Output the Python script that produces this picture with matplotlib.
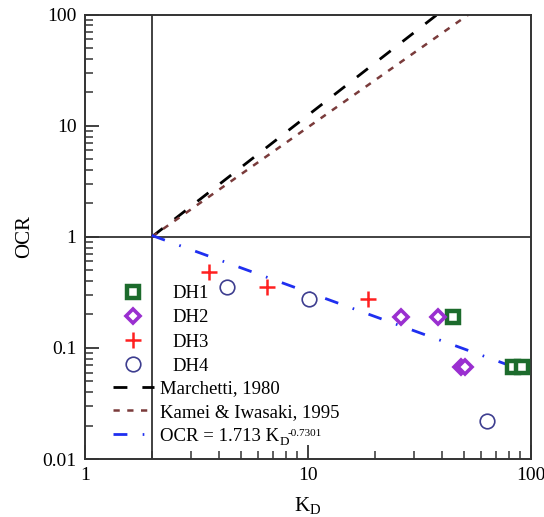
import matplotlib
matplotlib.use("Agg")
import matplotlib.pyplot as plt
from matplotlib.ticker import LogLocator, NullFormatter, FixedFormatter, FixedLocator

plt.rcParams['font.family'] = ['Liberation Serif', 'DejaVu Serif']
plt.rcParams['mathtext.fontset'] = 'custom'
plt.rcParams['mathtext.rm'] = 'Liberation Serif'

# ---- data ----
dh1_kd = [44.6, 83.0, 91.5]
dh1_ocr = [0.188, 0.068, 0.068]
dh2_kd = [26.1, 38.4, 48.5, 50.5]
dh2_ocr = [0.188, 0.188, 0.068, 0.068]
dh3_kd = [3.6, 6.57, 18.6]
dh3_ocr = [0.486, 0.351, 0.275]
dh4_kd = [4.34, 10.1, 63.9]
dh4_ocr = [0.356, 0.275, 0.0222]

marchetti_kd = [2.0, 38.0]
marchetti_ocr = [1.0, 100.0]
kamei_kd = [2.0, 52.5]
kamei_ocr = [1.0, 100.0]
fit_kd = [2.0, 92.0]
fit_ocr = [1.03, 0.063]

ref_kd = 2.0
ref_ocr = 1.0

fit_label_main = 'OCR = 1.713 K'
fit_label_sub = 'D'
fit_label_sup = '-0.7301'

xticks = [1, 10, 100]
xticklabels = ['1', '10', '100']
yticks = [0.01, 0.1, 1, 10, 100]
yticklabels = ['0.01', '0.1', '1', '10', '100']

W, H = 544, 517
fig = plt.figure(figsize=(W / 100, H / 100), dpi=100)
ax = fig.add_axes([84.7 / W, 1 - 459 / H, (530.7 - 84.7) / W, (459 - 14.7) / H])

ax.set_xscale('log')
ax.set_yscale('log')
ax.set_xlim(1, 100)
ax.set_ylim(0.01, 100)

ax.axvline(ref_kd, color='#333333', lw=1.3, zorder=1)
ax.axhline(ref_ocr, color='#333333', lw=1.3, zorder=1)

l_march, = ax.plot(marchetti_kd, marchetti_ocr, color='black', lw=2.0,
                   dashes=(5, 5.4), label='Marchetti, 1980', zorder=2)
l_kamei, = ax.plot(kamei_kd, kamei_ocr, color='#7a3b3b', lw=1.8,
                   dashes=(2.5, 3.0), label='Kamei & Iwasaki, 1995', zorder=2)
l_fit, = ax.plot(fit_kd, fit_ocr, color='#1f2ff0', lw=2.0,
                 dashes=(5, 5.5, 0.6, 5.5), label=fit_label_main, zorder=2)

m1, = ax.plot(dh1_kd, dh1_ocr, ls='none', marker='s', ms=8.5, mew=3.2,
              mec='#1c6b2c', mfc='white', label='DH1', zorder=4)
m2, = ax.plot(dh2_kd, dh2_ocr, ls='none', marker='D', ms=7.5, mew=2.6,
              mec='#9a2fd0', mfc='white', label='DH2', zorder=4)
m3, = ax.plot(dh3_kd, dh3_ocr, ls='none', marker='+', ms=11, mew=1.8,
              mec='#ff2020', label='DH3', zorder=4)
m4, = ax.plot(dh4_kd, dh4_ocr, ls='none', marker='o', ms=10.5, mew=1.2,
              mec='#3d3d8f', mfc='white', label='DH4', zorder=4)

ax.xaxis.set_major_locator(FixedLocator(xticks))
ax.xaxis.set_major_formatter(FixedFormatter(xticklabels))
ax.yaxis.set_major_locator(FixedLocator(yticks))
ax.yaxis.set_major_formatter(FixedFormatter(yticklabels))
ax.xaxis.set_minor_locator(LogLocator(base=10, subs=range(2, 10)))
ax.yaxis.set_minor_locator(LogLocator(base=10, subs=range(2, 10)))
ax.xaxis.set_minor_formatter(NullFormatter())
ax.yaxis.set_minor_formatter(NullFormatter())

ax.tick_params(which='both', direction='in', top=False, right=False, color='#333333')
ax.tick_params(which='major', length=10, width=1.3, labelsize=14, pad=6)
ax.tick_params(which='minor', length=6, width=1.1)
for s in ax.spines.values():
    s.set_color('#333333')
    s.set_linewidth(1.4)

ax.set_ylabel('OCR', fontsize=15, labelpad=6)
ax.set_xlabel(r'K$_\mathregular{D}$', fontsize=15, labelpad=8)

leg_fs = 13.5
leg1 = ax.legend(handles=[m1, m2, m3, m4], loc='upper left', frameon=False,
                 bbox_to_anchor=(122 / W, 1 - 285 / H), bbox_transform=fig.transFigure,
                 borderpad=0, borderaxespad=0, handlelength=1.15, handletextpad=1.55,
                 labelspacing=0.38, fontsize=leg_fs, numpoints=1)
ax.add_artist(leg1)
leg2 = ax.legend(handles=[l_march, l_kamei, l_fit], loc='upper left', frameon=False,
                 bbox_to_anchor=(113 / W, 1 - 380 / H), bbox_transform=fig.transFigure,
                 borderpad=0, borderaxespad=0, handlelength=2.2, handletextpad=0.33,
                 labelspacing=0.36, fontsize=leg_fs)

# subscript / superscript of the fit label, placed after the legend text
fig.canvas.draw()
renderer = fig.canvas.get_renderer()
bb = leg2.get_texts()[2].get_window_extent(renderer)
fs_px = leg_fs * 100 / 72
baseline = bb.y0 + 0.216 * fs_px
fig.text((bb.x1 + 0.5) / W, (baseline - 4) / H, fit_label_sub, fontsize=9.5,
         ha='left', va='baseline')
sub_w = 7.5
fig.text((bb.x1 + sub_w + 0.5) / W, (baseline + 4.5) / H, fit_label_sup, fontsize=8,
         ha='left', va='baseline')

fig.savefig('out.png', dpi=100)
